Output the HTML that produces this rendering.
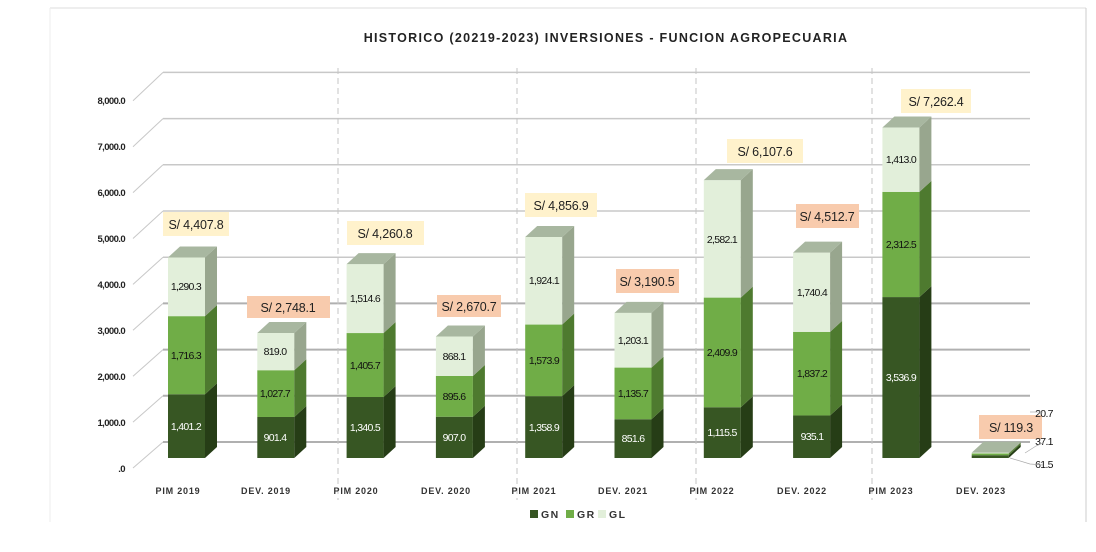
<!DOCTYPE html>
<html><head><meta charset="utf-8"><style>
body{margin:0;background:#fff;}
svg{display:block;font-family:"Liberation Sans",sans-serif;}
.ax{font-size:9.5px;font-weight:bold;fill:#222;letter-spacing:-0.6px;text-anchor:end}
.cat{font-size:9px;font-weight:bold;fill:#333;letter-spacing:0.8px;text-anchor:middle}
.v{font-size:10.5px;text-anchor:middle;letter-spacing:-0.7px;fill:#111}
.w{fill:#fff}
.tot{font-size:12.5px;text-anchor:middle;fill:#222;letter-spacing:-0.2px}
</style></head><body>
<svg id="s" width="1096" height="552" viewBox="0 0 1096 552" xmlns="http://www.w3.org/2000/svg">
<rect width="1096" height="552" fill="#fff"/>
<line x1="50" y1="8" x2="1086" y2="8" stroke="#ddd"/>
<line x1="1086" y1="8" x2="1086" y2="522" stroke="#ccc"/>
<line x1="50" y1="8" x2="50" y2="522" stroke="#eee"/>
<g id="grid"></g>
<g stroke="#c4c4c4" stroke-dasharray="6,4">
<line x1="338" y1="68" x2="338" y2="500"/><line x1="517" y1="68" x2="517" y2="500"/>
<line x1="696" y1="68" x2="696" y2="500"/><line x1="872" y1="68" x2="872" y2="500"/>
</g>
<g id="bars"></g>
<text x="606" y="42" text-anchor="middle" font-size="12.5" font-weight="bold" letter-spacing="1.3" fill="#222">HISTORICO (20219-2023) INVERSIONES - FUNCION AGROPECUARIA</text>
<text class="ax" x="125" y="104">8,000.0</text><text class="ax" x="125" y="150">7,000.0</text>
<text class="ax" x="125" y="196">6,000.0</text><text class="ax" x="125" y="242">5,000.0</text>
<text class="ax" x="125" y="288">4,000.0</text><text class="ax" x="125" y="334">3,000.0</text>
<text class="ax" x="125" y="380">2,000.0</text><text class="ax" x="125" y="426">1,000.0</text>
<text class="ax" x="125" y="472">.0</text>
<text class="cat" x="178" y="494">PIM 2019</text><text class="cat" x="266" y="494">DEV. 2019</text>
<text class="cat" x="356" y="494">PIM 2020</text><text class="cat" x="446" y="494">DEV. 2020</text>
<text class="cat" x="534" y="494">PIM 2021</text><text class="cat" x="623" y="494">DEV. 2021</text>
<text class="cat" x="712" y="494">PIM 2022</text><text class="cat" x="802" y="494">DEV. 2022</text>
<text class="cat" x="891" y="494">PIM 2023</text><text class="cat" x="981" y="494">DEV. 2023</text>
<rect x="163" y="212" width="66" height="24" fill="#fff2cc"/><text class="tot" x="196" y="229">S/ 4,407.8</text>
<rect x="247" y="296" width="83" height="22" fill="#f8cbad"/><text class="tot" x="288" y="312">S/ 2,748.1</text>
<rect x="347" y="221" width="77" height="24" fill="#fff2cc"/><text class="tot" x="385" y="238">S/ 4,260.8</text>
<rect x="437" y="295" width="64" height="22" fill="#f8cbad"/><text class="tot" x="469" y="311">S/ 2,670.7</text>
<rect x="525" y="193" width="72" height="24" fill="#fff2cc"/><text class="tot" x="561" y="210">S/ 4,856.9</text>
<rect x="616" y="269" width="63" height="24" fill="#f8cbad"/><text class="tot" x="647" y="286">S/ 3,190.5</text>
<rect x="727" y="139" width="76" height="24" fill="#fff2cc"/><text class="tot" x="765" y="156">S/ 6,107.6</text>
<rect x="796" y="204" width="63" height="24" fill="#f8cbad"/><text class="tot" x="827" y="221">S/ 4,512.7</text>
<rect x="901" y="89" width="70" height="24" fill="#fff2cc"/><text class="tot" x="936" y="106">S/ 7,262.4</text>
<rect x="979" y="415" width="63" height="24" fill="#f8cbad"/><text class="tot" x="1011" y="432">S/ 119.3</text>
<text class="v w" x="186" y="430">1,401.2</text><text class="v" x="186" y="359">1,716.3</text><text class="v" x="186" y="290">1,290.3</text>
<text class="v w" x="275" y="441">901.4</text><text class="v" x="275" y="397">1,027.7</text><text class="v" x="275" y="355">819.0</text>
<text class="v w" x="365" y="431">1,340.5</text><text class="v" x="365" y="369">1,405.7</text><text class="v" x="365" y="302">1,514.6</text>
<text class="v w" x="454" y="441">907.0</text><text class="v" x="454" y="400">895.6</text><text class="v" x="454" y="360">868.1</text>
<text class="v w" x="544" y="431">1,358.9</text><text class="v" x="544" y="364">1,573.9</text><text class="v" x="544" y="284">1,924.1</text>
<text class="v w" x="633" y="442">851.6</text><text class="v" x="633" y="397">1,135.7</text><text class="v" x="633" y="344">1,203.1</text>
<text class="v w" x="722" y="436">1,115.5</text><text class="v" x="722" y="356">2,409.9</text><text class="v" x="722" y="243">2,582.1</text>
<text class="v w" x="812" y="440">935.1</text><text class="v" x="812" y="377">1,837.2</text><text class="v" x="812" y="296">1,740.4</text>
<text class="v w" x="901" y="381">3,536.9</text><text class="v" x="901" y="248">2,312.5</text><text class="v" x="901" y="163">1,413.0</text>
<text class="v" x="1044" y="417" text-anchor="start">20.7</text>
<text class="v" x="1044" y="445" text-anchor="start">37.1</text>
<text class="v" x="1044" y="468" text-anchor="start">61.5</text>
<g stroke="#aaa" stroke-width="0.7" fill="none">
<polyline points="1025,453 1036,446 1043,443"/><polyline points="1030,412 1043,412"/><polyline points="1010,458 1030,464 1043,465"/>
</g>
<rect x="530" y="510" width="8" height="8" fill="#375623"/><text x="541" y="518" font-size="10.5" font-weight="bold" letter-spacing="1.5" fill="#333">GN</text>
<rect x="566" y="510" width="8" height="8" fill="#70ad47"/><text x="577" y="518" font-size="10.5" font-weight="bold" letter-spacing="1.5" fill="#333">GR</text>
<rect x="598" y="510" width="8" height="8" fill="#e2efda"/><text x="609" y="518" font-size="10.5" font-weight="bold" letter-spacing="1.5" fill="#333">GL</text>
</svg>
<script>
var NS="http://www.w3.org/2000/svg";
function el(p,t,a){var e=document.createElementNS(NS,t);for(var k in a)e.setAttribute(k,a[k]);p.appendChild(e);return e;}
var g=document.getElementById('grid');
for(var j=0;j<=8;j++){
 var yb=442-46.2*j, yf=468-45.9*j;
 el(g,'line',{x1:133,y1:yf,x2:163,y2:yb,stroke:'#c8c8c8','stroke-width':1});
 el(g,'line',{x1:163,y1:yb,x2:1030,y2:yb,stroke:(j<=3?'#b0b0b0':'#c8c8c8'),'stroke-width':(j<=3?2:1.5)});
}
var data=[[1401.2,1716.3,1290.3],[901.4,1027.7,819.0],[1340.5,1405.7,1514.6],[907.0,895.6,868.1],[1358.9,1573.9,1924.1],[851.6,1135.7,1203.1],[1115.5,2409.9,2582.1],[935.1,1837.2,1740.4],[3536.9,2312.5,1413.0],[61.5,37.1,20.7]];
var fr=['#375623','#70ad47','#e2efda'],sd=['#263d16','#4e7a2f','#98a68e'],tp='#a8b7a0';
var b=document.getElementById('bars'),k=0.0455,base=458,w=37,dx=12,dy=11;
data.forEach(function(d,i){
 var x=168+89.3*i,y=base,c=0;
 for(var s=0;s<3;s++){
  var y2=base-k*(c+d[s]);c+=d[s];
  el(b,'rect',{x:x,y:y2,width:w,height:y-y2,fill:fr[s]});
  el(b,'polygon',{points:[x+w,y,x+w+dx,y-dy,x+w+dx,y2-dy,x+w,y2].join(' '),fill:sd[s]});
  y=y2;
 }
 el(b,'polygon',{points:[x,y,x+dx,y-dy,x+w+dx,y-dy,x+w,y].join(' '),fill:tp});
});
</script>
</body></html>
